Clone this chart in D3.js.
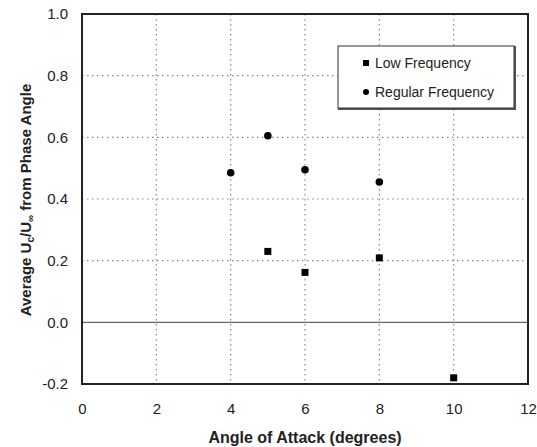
<!DOCTYPE html>
<html>
<head>
<meta charset="utf-8">
<script src="https://cdn.jsdelivr.net/npm/d3@7"></script>
<style>
  html, body { margin: 0; padding: 0; background: #fff; }
  svg { display: block; font-family: "Liberation Sans", Arial, sans-serif; }
</style>
</head>
<body>
<svg id="chart" width="537" height="447"></svg>
<script>
// Angle of attack (degrees) and averaged convection velocity ratio
const lowAngles = [5, 6, 8, 10];
const lowValues = [0.23, 0.162, 0.209, -0.18];
const regAngles = [4, 5, 6, 8];
const regValues = [0.485, 0.605, 0.495, 0.455];
const xTicks = [0, 2, 4, 6, 8, 10, 12];
const yTicks = [-0.2, 0.0, 0.2, 0.4, 0.6, 0.8, 1.0];
const legendLabels = ["Low Frequency", "Regular Frequency"];

const svg = d3.select("#chart");
const m = { left: 82, right: 528, top: 14, bottom: 384 };

const x = d3.scaleLinear().domain([0, 12]).range([m.left, m.right]);
const y = d3.scaleLinear().domain([-0.2, 1.0]).range([m.bottom, m.top]);

// dotted grid
const grid = svg.append("g");
grid.selectAll("line.v").data(xTicks.filter(d => d > 0 && d < 12)).join("line")
  .attr("x1", d => x(d)).attr("x2", d => x(d))
  .attr("y1", m.top).attr("y2", m.bottom)
  .attr("stroke", "#888").attr("stroke-width", 1.2).attr("stroke-dasharray", "1.5,3.5");
grid.selectAll("line.h").data(yTicks.filter(d => d > -0.2 && d < 1.0 && d !== 0)).join("line")
  .attr("x1", m.left).attr("x2", m.right)
  .attr("y1", d => y(d)).attr("y2", d => y(d))
  .attr("stroke", "#888").attr("stroke-width", 1.2).attr("stroke-dasharray", "1.5,3.5");

// zero line
svg.append("line")
  .attr("x1", m.left).attr("x2", m.right)
  .attr("y1", y(0)).attr("y2", y(0))
  .attr("stroke", "#666").attr("stroke-width", 1.2);

// axes with tick labels
const fmtY = d => d3.format(".1f")(d).replace("−", "-");
const xAxis = svg.append("g").attr("transform", `translate(0,${m.bottom})`)
  .call(d3.axisBottom(x).tickValues(xTicks).tickSize(0).tickPadding(19).tickFormat(d3.format("d")));
const yAxis = svg.append("g").attr("transform", `translate(${m.left},0)`)
  .call(d3.axisLeft(y).tickValues(yTicks).tickSize(0).tickPadding(14).tickFormat(fmtY));
[xAxis, yAxis].forEach(a => {
  a.select(".domain").remove();
  a.selectAll("text").attr("font-size", 15).attr("fill", "#222")
    .attr("font-family", "'Liberation Sans', Arial, sans-serif");
});

// plot frame
svg.append("rect")
  .attr("x", m.left).attr("y", m.top)
  .attr("width", m.right - m.left).attr("height", m.bottom - m.top)
  .attr("fill", "none").attr("stroke", "#222").attr("stroke-width", 2);

// markers
svg.append("g").selectAll("rect").data(lowAngles).join("rect")
  .attr("x", (d, i) => x(d) - 3.5).attr("y", (d, i) => y(lowValues[i]) - 3.5)
  .attr("width", 7).attr("height", 7).attr("fill", "#000");
svg.append("g").selectAll("circle").data(regAngles).join("circle")
  .attr("cx", d => x(d)).attr("cy", (d, i) => y(regValues[i]))
  .attr("r", 3.8).attr("fill", "#000");

// legend
const lg = svg.append("g");
lg.append("rect").attr("x", 339).attr("y", 47).attr("width", 176).attr("height", 62)
  .attr("fill", "none").attr("stroke", "#555").attr("stroke-width", 2);
lg.append("rect").attr("x", 338).attr("y", 46).attr("width", 176).attr("height", 62)
  .attr("fill", "#fff").attr("stroke", "#333").attr("stroke-width", 1);
lg.append("rect").attr("x", 363).attr("y", 60).attr("width", 6).attr("height", 6).attr("fill", "#000");
lg.append("circle").attr("cx", 366).attr("cy", 92).attr("r", 3).attr("fill", "#000");
lg.selectAll("text").data(legendLabels).join("text")
  .attr("x", 375).attr("y", (d, i) => 68 + i * 29)
  .attr("font-size", 14).attr("fill", "#222").text(d => d);

// axis titles
svg.append("text").attr("x", 305).attr("y", 443)
  .attr("text-anchor", "middle").attr("font-size", 16).attr("font-weight", "bold").attr("fill", "#222")
  .text("Angle of Attack (degrees)");

const yt = svg.append("text")
  .attr("transform", `translate(31,200) rotate(-90)`)
  .attr("text-anchor", "middle").attr("font-size", 15).attr("font-weight", "bold").attr("fill", "#222");
yt.append("tspan").text("Average U");
yt.append("tspan").attr("font-size", 10).attr("dy", 3).text("c");
yt.append("tspan").attr("dy", -3).text("/U");
yt.append("tspan").attr("font-size", 10).attr("dy", 3).text("∞");
yt.append("tspan").attr("dy", -3).text(" from Phase Angle");
</script>
</body>
</html>
